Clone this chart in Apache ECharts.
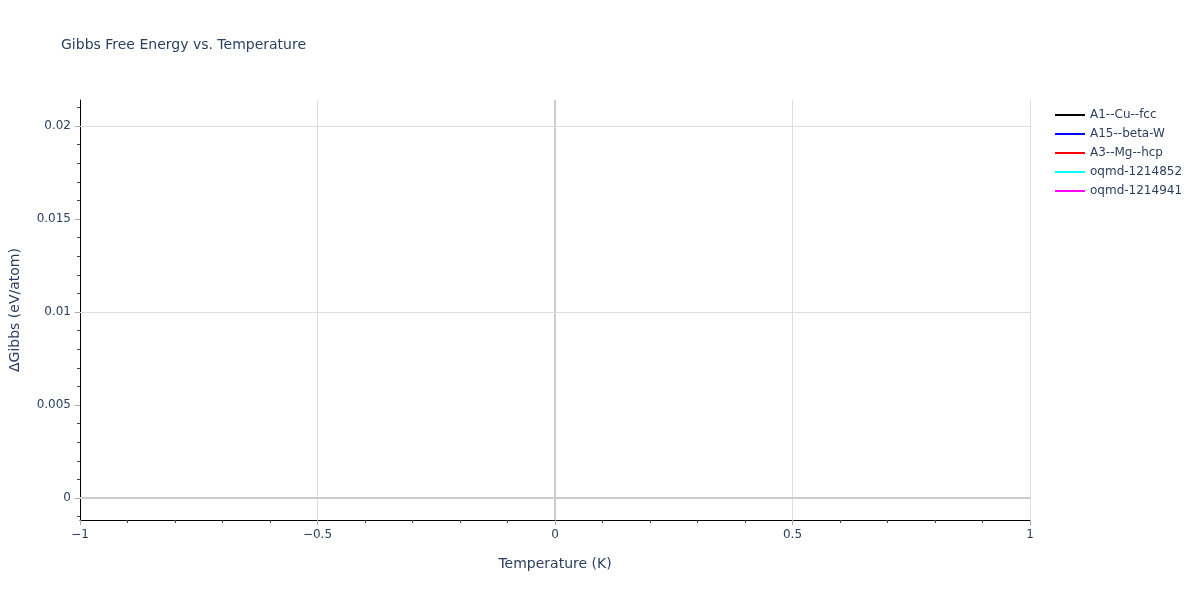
<!DOCTYPE html>
<html><head><meta charset="utf-8">
<script src="https://cdn.jsdelivr.net/npm/echarts@6/dist/echarts.min.js"></script>
<style>html,body{margin:0;padding:0;background:#fff}#c{width:1200px;height:600px}</style>
</head><body><div id="c"></div>
<script>
const seriesNames = ['A1--Cu--fcc','A15--beta-W','A3--Mg--hcp','oqmd-1214852','oqmd-1214941'];
const seriesColors = ['#000000','#0000ff','#ff0000','#00ffff','#ff00ff'];
const temperature = [0];
const gibbsA1 = [0];
const gibbsA15 = [0];
const gibbsA3 = [0];
const gibbsOqmd852 = [0];
const gibbsOqmd941 = [0];
const allGibbs = [gibbsA1, gibbsA15, gibbsA3, gibbsOqmd852, gibbsOqmd941];
const xTicks = [-1, -0.5, 0, 0.5, 1];
const yTicks = [0, 0.005, 0.01, 0.015, 0.02];
const yMinorTicks = [-0.001, 0.001, 0.002, 0.003, 0.004, 0.006, 0.007, 0.008, 0.009, 0.011, 0.012, 0.013, 0.014, 0.016, 0.017, 0.018, 0.019, 0.021];
const yMin = -0.00118, yMax = 0.0214;

const txt = '#2a3f5f';
const font = '"DejaVu Sans", Verdana, sans-serif';
const chart = echarts.init(document.getElementById('c'));
const series = seriesNames.map((n, i) => ({
  name: n, type: 'line', showSymbol: false, symbol: 'none',
  lineStyle: {width: 2, color: seriesColors[i]}, itemStyle: {color: seriesColors[i]},
  data: temperature.map((t, k) => [t, allGibbs[i][k]]),
  z: 3
}));
series.push({
  type: 'line', data: [], silent: true, z: 2,
  markLine: {silent: true, symbol: 'none', label: {show: false}, animation: false,
    lineStyle: {color: '#cccccc', width: 2, type: 'solid'},
    data: [{xAxis: 0}, {yAxis: 0}]}
});
series.push({
  type: 'line', data: [], silent: true, z: 1,
  markLine: {silent: true, symbol: 'none', label: {show: false}, animation: false,
    lineStyle: {color: '#dddddd', width: 1, type: 'solid'},
    data: yTicks.filter(v => v !== 0).map(v => ({yAxis: v}))}
});
chart.setOption({
  animation: false,
  textStyle: {fontFamily: font},
  title: {text: 'Gibbs Free Energy vs. Temperature', left: 56, top: 33,
    textStyle: {fontSize: 14, fontWeight: 'normal', color: txt, fontFamily: font}},
  legend: {orient: 'vertical', left: 1050, top: 103, itemGap: 5, itemWidth: 30, itemHeight: 14,
    icon: 'path://M0,6 L30,6 L30,8 L0,8 Z',
    textStyle: {fontSize: 12, color: txt, fontFamily: font, lineHeight: 14}, data: seriesNames},
  grid: {left: 79, right: 170, top: 100, bottom: 80, containLabel: false},
  xAxis: {type: 'value', min: -1, max: 1, interval: 0.5,
    name: 'Temperature (K)', nameLocation: 'middle', nameGap: 37,
    nameTextStyle: {fontSize: 14, color: txt, fontFamily: font},
    axisLine: {show: true, onZero: false, lineStyle: {color: '#000', width: 1}},
    axisTick: {show: true, inside: false, length: 5, lineStyle: {color: '#aaa'}},
    minorTick: {show: true, splitNumber: 5, length: 3, lineStyle: {color: '#444'}},
    axisLabel: {fontSize: 12, color: txt, margin: 9, fontFamily: font,
      formatter: v => xTicks.includes(v) ? (v < 0 ? '\u2212' + Math.abs(v) : String(v)) : ''},
    splitLine: {show: true, lineStyle: {color: '#dddddd', width: 1}}},
  yAxis: [{type: 'value', min: yMin, max: yMax,
    name: '\u0394Gibbs (eV/atom)', nameLocation: 'middle', nameGap: 58,
    nameTextStyle: {fontSize: 14, color: txt, fontFamily: font},
    axisLine: {show: true, onZero: false, lineStyle: {color: '#000', width: 1}},
    axisTick: {show: true, inside: false, length: 5, lineStyle: {color: '#aaa'}, customValues: yTicks},
    axisLabel: {fontSize: 12, color: txt, margin: 9, fontFamily: font, customValues: yTicks,
      formatter: v => String(+v.toFixed(4))},
    splitLine: {show: false}},
  {type: 'value', min: yMin, max: yMax, position: 'left', offset: 0,
    axisLine: {show: false, onZero: false},
    axisTick: {show: true, inside: false, length: 3, lineStyle: {color: '#444'}, customValues: yMinorTicks},
    axisLabel: {show: false, customValues: yMinorTicks},
    splitLine: {show: false}}],
  series: series
});
</script></body></html>
